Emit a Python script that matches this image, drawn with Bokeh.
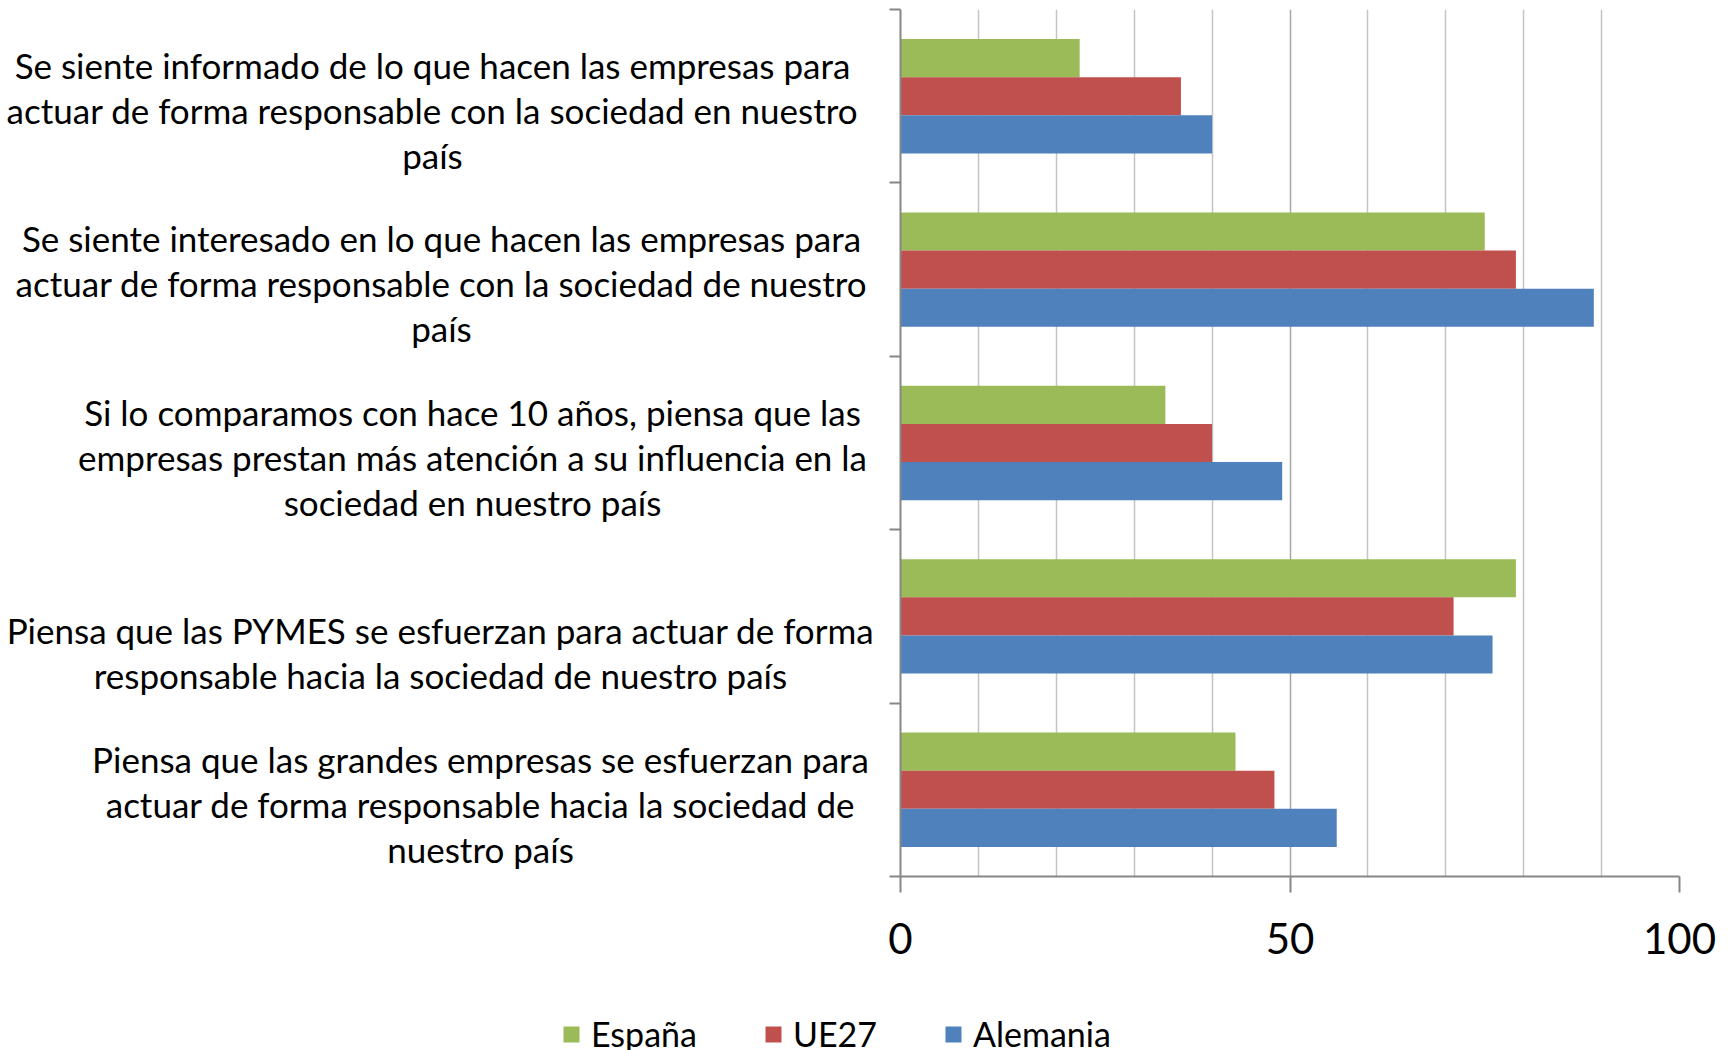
from bokeh.plotting import figure
from bokeh.layouts import column, row
from bokeh.models import (Range1d, FixedTicker, ColumnDataSource, Legend,
                          LegendItem, CustomJSTickFormatter)
from bokeh.core.properties import value
from bokeh.embed import file_html
from bokeh.resources import INLINE

# ---------------- data ----------------
categories = [
    "Se siente informado de lo que hacen las empresas para\nactuar de forma responsable con la sociedad en nuestro\npaís",
    "Se siente interesado en lo que hacen las empresas para\nactuar de forma responsable con la sociedad de nuestro\npaís",
    "Si lo comparamos con hace 10 años, piensa que las\nempresas prestan más atención a su influencia en la\nsociedad en nuestro país",
    "Piensa que las PYMES se esfuerzan para actuar de forma\nresponsable hacia la sociedad de nuestro país",
    "Piensa que las grandes empresas se esfuerzan para\nactuar de forma responsable hacia la sociedad de\nnuestro país",
]
series = ["España", "UE27", "Alemania"]
espana = [23, 75, 34, 79, 43]
ue27 = [36, 79, 40, 71, 48]
alemania = [40, 89, 49, 76, 56]
x_ticks = [0, 50, 100]
minor_grid = [10, 20, 30, 40, 60, 70, 80, 90]

# ---------------- layout / style ----------------
colors = ["#9BBB59", "#C0504D", "#4F81BD"]
FONT = "Lato"
TOTAL_W, TOTAL_H = 1716, 1050
LEFT_W = 880              # width of label column
MAIN_H = 985              # height of label column / bar chart
FRAME_TOP, FRAME_BOTTOM, FRAME_LEFT, FRAME_RIGHT = 9, 876, 900, 1679
LABEL_X = [432, 441, 472, 440, 480]   # horizontal centre of each label block (px)
LABEL_LIFT = 0.04                      # label block bottom above category boundary
BAR_H = 0.22
OFFSETS = [0.22, 0.0, -0.22]
AXIS_COLOR = "#868686"

n = len(categories)
y_range = Range1d(0, n)

# ---------------- bar chart ----------------
p = figure(width=TOTAL_W - LEFT_W, height=MAIN_H, output_backend="svg",
           toolbar_location=None, x_range=Range1d(0, 100), y_range=y_range,
           min_border_left=FRAME_LEFT - LEFT_W,
           min_border_right=TOTAL_W - FRAME_RIGHT,
           min_border_top=FRAME_TOP, min_border_bottom=MAIN_H - FRAME_BOTTOM)
p.outline_line_color = None

centers = [n - i - 0.5 for i in range(n)]
sources = []
renderers = []
for vals, off, col in zip([espana, ue27, alemania], OFFSETS, colors):
    src = ColumnDataSource(dict(y=[c + off for c in centers], right=vals))
    sources.append(src)
    r = p.hbar(y="y", left=0, right="right", height=BAR_H, source=src,
               fill_color=col, line_color=None)
    renderers.append(r)

xa = p.xaxis[0]
xa.ticker = FixedTicker(ticks=x_ticks, minor_ticks=minor_grid)
xa.minor_tick_line_color = None
xa.major_tick_out = 16
xa.major_tick_in = 0
xa.axis_line_color = AXIS_COLOR
xa.axis_line_width = 2
xa.major_tick_line_color = AXIS_COLOR
xa.major_tick_line_width = 2
xa.major_label_text_font = FONT
xa.major_label_text_font_size = "42px"
xa.major_label_text_color = "black"
xa.major_label_standoff = 30

p.xgrid.ticker = xa.ticker
p.xgrid.grid_line_color = "#A6A6A6"
p.xgrid.grid_line_width = 1.5
p.xgrid.minor_grid_line_color = "#C4C4C4"
p.xgrid.minor_grid_line_width = 1.5
p.ygrid.grid_line_color = None

ya = p.yaxis[0]
ya.ticker = FixedTicker(ticks=list(range(0, n + 1)))
ya.formatter = CustomJSTickFormatter(code="return ''")
ya.minor_tick_line_color = None
ya.major_tick_out = 11
ya.major_tick_in = 0
ya.axis_line_color = AXIS_COLOR
ya.axis_line_width = 2
ya.major_tick_line_color = AXIS_COLOR
ya.major_tick_line_width = 2

# ---------------- category labels ----------------
lp = figure(width=LEFT_W, height=MAIN_H, output_backend="svg", toolbar_location=None,
            x_range=Range1d(0, LEFT_W), y_range=y_range,
            x_axis_location=None, y_axis_location=None,
            min_border_left=0, min_border_right=0,
            min_border_top=FRAME_TOP, min_border_bottom=MAIN_H - FRAME_BOTTOM)
lp.outline_line_color = None
lp.grid.grid_line_color = None
lab_src = ColumnDataSource(dict(x=LABEL_X, y=[n - i - 1 + LABEL_LIFT for i in range(n)],
                                text=categories))
lp.text(x="x", y="y", text="text", source=lab_src, text_align="center",
        text_baseline="bottom", text_font=value(FONT), text_font_size="35px",
        text_line_height=1.07, text_color="black")

# ---------------- legend ----------------
LEG_H = TOTAL_H - MAIN_H
lg = figure(width=TOTAL_W, height=LEG_H, output_backend="svg", toolbar_location=None,
            x_range=Range1d(0, 1), y_range=Range1d(100, 101),
            x_axis_location=None, y_axis_location=None, min_border=0)
lg.outline_line_color = None
lg.grid.grid_line_color = None
leg_renderers = []
for src, col in zip(sources, colors):
    leg_renderers.append(lg.hbar(y="y", left=0, right="right", height=BAR_H, source=src,
                                 fill_color=col, line_color=None))
legend = Legend(items=[LegendItem(label=s, renderers=[r]) for s, r in zip(series, leg_renderers)],
                orientation="horizontal", location=(561, -4))
legend.glyph_width = 20
legend.glyph_height = 20
legend.label_standoff = 10
legend.spacing = 66
legend.padding = 0
legend.margin = 0
legend.border_line_color = None
legend.background_fill_alpha = 0
legend.label_text_font = FONT
legend.label_text_font_size = "34px"
legend.label_text_color = "black"
lg.add_layout(legend)

layout = column(row(lp, p, spacing=0), lg, spacing=0)
open("out.html", "w").write(file_html(layout, INLINE))
